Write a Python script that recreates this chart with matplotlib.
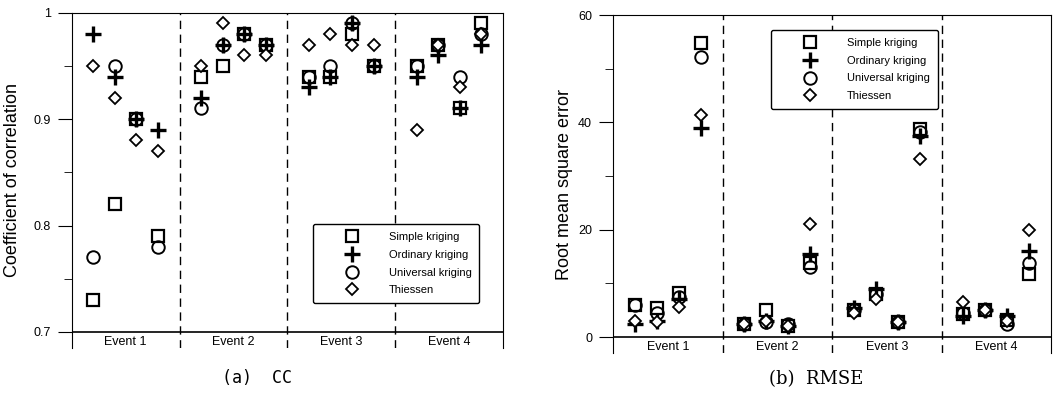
import numpy as np
import matplotlib
matplotlib.use("Agg")
import matplotlib.pyplot as plt

plt.rcParams['font.family'] = ['Liberation Sans', 'DejaVu Sans']

events = ["Event 1", "Event 2", "Event 3", "Event 4"]
methods = ["Simple kriging", "Ordinary kriging", "Universal kriging", "Thiessen"]

# coefficient of correlation, 4 columns per event
cc_simple = [0.73, 0.82, 0.90, 0.79, 0.94, 0.95, 0.98, 0.97, 0.94, 0.94, 0.98, 0.95, 0.95, 0.97, 0.91, 0.99]
cc_ordinary = [0.98, 0.94, 0.90, 0.89, 0.92, 0.97, 0.98, 0.97, 0.93, 0.94, 0.99, 0.95, 0.94, 0.96, 0.91, 0.97]
cc_universal = [0.77, 0.95, 0.90, 0.78, 0.91, 0.97, 0.98, 0.97, 0.94, 0.95, 0.99, 0.95, 0.95, 0.97, 0.94, 0.98]
cc_thiessen = [0.95, 0.92, 0.88, 0.87, 0.95, 0.99, 0.96, 0.96, 0.97, 0.98, 0.97, 0.97, 0.89, 0.97, 0.93, 0.98]

# root mean square error
rmse_simple = [6.0, 5.5, 8.2, 54.8, 2.5, 5.0, 2.0, 13.7, 5.0, 8.0, 2.8, 38.8, 4.3, 5.0, 3.1, 11.7]
rmse_ordinary = [2.5, 3.0, 7.0, 39.0, 2.5, 3.0, 2.0, 15.5, 5.5, 9.0, 2.8, 37.5, 4.0, 5.0, 4.0, 16.1]
rmse_universal = [6.0, 4.5, 7.5, 52.2, 2.5, 2.8, 2.5, 13.0, 5.0, 8.0, 2.8, 38.2, 4.5, 5.0, 2.5, 13.7]
rmse_thiessen = [3.0, 2.8, 5.6, 41.3, 2.5, 3.0, 2.0, 21.0, 4.5, 7.0, 2.8, 33.2, 6.5, 5.0, 3.0, 20.0]

# x positions: event width 5, columns at 1..4
xpos = np.array([5 * e + c for e in range(4) for c in range(1, 5)])


def draw(ax, series, ylo, ybase, ytop):
    s, o, u, t = series
    ax.plot(xpos, s, ls='none', marker='s', ms=9, mew=1.6, mfc='none', mec='black', label=methods[0])
    ax.plot(xpos, o, ls='none', marker='+', ms=11, mew=2.4, color='black', label=methods[1])
    ax.plot(xpos, u, ls='none', marker='o', ms=9, mew=1.4, mfc='none', mec='black', label=methods[2])
    ax.plot(xpos, t, ls='none', marker='D', ms=6.5, mew=1.3, mfc='white', mec='black', label=methods[3])
    for b in [5, 10, 15]:
        ax.axvline(b, color='black', lw=1, ls=(0, (6, 4)))
    ax.axhline(ybase, color='black', lw=1.2)
    ax.set_xlim(0, 20)
    ax.set_ylim(ylo, ytop)
    ax.set_xticks([])
    ax.spines['bottom'].set_visible(False)
    for e, name in enumerate(events):
        ax.text(5 * e + 2.5, ybase - (ybase - ylo) * 0.62, name, ha='center', va='center', fontsize=9)
    ax.tick_params(axis='y', which='major', length=10, direction='out', labelsize=9, pad=5)
    ax.tick_params(axis='y', which='minor', length=5.8, direction='out')
    leg = ax.legend(loc='upper left', fontsize=8, frameon=True, fancybox=True, edgecolor='black',
                    framealpha=1, handlelength=5.6, handletextpad=0.5, labelspacing=0.7,
                    borderpad=0.72, borderaxespad=0)
    leg.get_frame().set_linewidth(1)
    return leg


fig = plt.figure(figsize=(10.56, 3.97), dpi=100)

ax1 = fig.add_axes([0.0679, 0.1234, 0.4084, 0.8446])
leg1 = draw(ax1, [cc_simple, cc_ordinary, cc_universal, cc_thiessen], 0.6849, 0.7, 1.0)
leg1.set_bbox_to_anchor((0.559, 0.370), transform=ax1.transAxes)
ax1.set_yticks([0.7, 0.8, 0.9, 1.0])
ax1.set_yticklabels(["0.7", "0.8", "0.9", "1"])
ax1.set_yticks([0.75, 0.85, 0.95], minor=True)
ax1.set_ylabel("Coefficient of correlation", fontsize=13)
ax1.yaxis.set_label_coords(-0.118, 0.5)

ax2 = fig.add_axes([0.5805, 0.1108, 0.4148, 0.8514])
leg2 = draw(ax2, [rmse_simple, rmse_ordinary, rmse_universal, rmse_thiessen], -2.98, 0, 60)
leg2.set_bbox_to_anchor((0.361, 0.956), transform=ax2.transAxes)
ax2.set_yticks([0, 20, 40, 60])
ax2.set_yticks([10, 30, 50], minor=True)
ax2.set_ylabel("Root mean square error", fontsize=13)
ax2.yaxis.set_label_coords(-0.091, 0.5)

fig.text(257 / 1056, 1 - 378 / 397, "(a)  CC", ha='center', va='center', fontsize=12,
         family=['DejaVu Sans Mono'])
fig.text(816 / 1056, 1 - 379 / 397, "(b)  RMSE", ha='center', va='center', fontsize=13,
         family=['DejaVu Serif'])

fig.savefig("out.png", dpi=100)
